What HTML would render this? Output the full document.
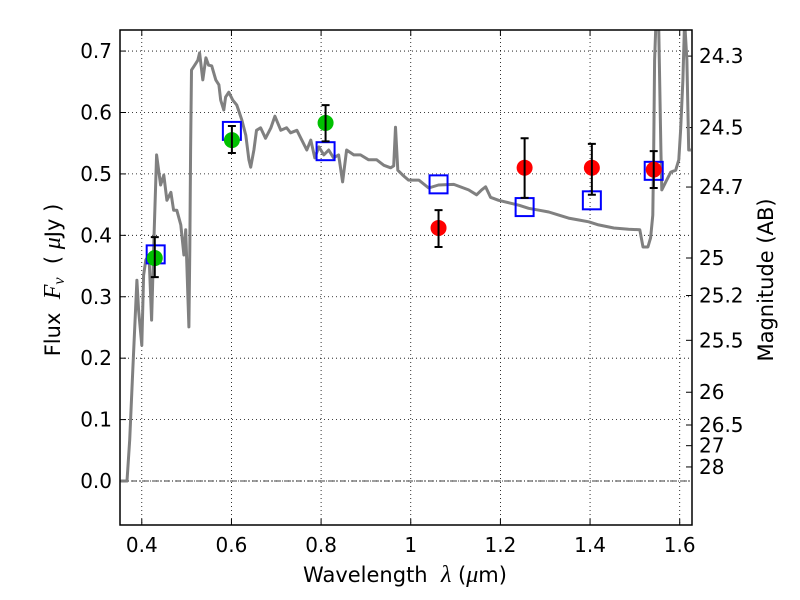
<!DOCTYPE html>
<html><head><meta charset="utf-8"><style>
body{margin:0;background:#fff;}
svg{display:block;font-family:"DejaVu Sans","Liberation Sans",sans-serif;}
text{white-space:pre;}
</style></head><body>
<svg id="chart" width="800" height="600" viewBox="0 0 800 600" xmlns="http://www.w3.org/2000/svg"></svg>
<script>
const specWave=[0.353,0.367,0.373,0.380,0.389,0.393,0.400,0.404,0.409,0.416,0.422,0.427,0.433,0.442,0.449,0.456,0.465,0.471,0.478,0.487,0.494,0.498,0.503,0.505,0.507,0.509,0.511,0.518,0.525,0.529,0.536,0.543,0.549,0.556,0.565,0.572,0.576,0.583,0.587,0.594,0.603,0.612,0.623,0.632,0.639,0.643,0.650,0.656,0.665,0.676,0.688,0.697,0.710,0.723,0.732,0.746,0.757,0.768,0.777,0.786,0.795,0.806,0.817,0.828,0.839,0.848,0.857,0.873,0.888,0.906,0.924,0.940,0.955,0.962,0.966,0.971,0.982,0.995,1.018,1.040,1.062,1.096,1.129,1.147,1.158,1.167,1.178,1.196,1.219,1.241,1.263,1.286,1.308,1.330,1.352,1.375,1.397,1.419,1.453,1.486,1.511,1.518,1.529,1.535,1.540,1.542,1.544,1.547,1.553,1.558,1.560,1.571,1.580,1.591,1.598,1.602,1.607,1.611,1.616,1.620,1.625];
const specFlux=[0,0,0.067,0.181,0.327,0.278,0.221,0.335,0.360,0.368,0.262,0.392,0.531,0.482,0.498,0.457,0.470,0.441,0.441,0.417,0.368,0.409,0.295,0.251,0.376,0.539,0.669,0.677,0.685,0.697,0.653,0.689,0.677,0.676,0.653,0.645,0.620,0.604,0.625,0.633,0.620,0.612,0.588,0.563,0.523,0.511,0.539,0.571,0.575,0.558,0.575,0.594,0.571,0.575,0.567,0.571,0.555,0.539,0.555,0.526,0.544,0.531,0.539,0.526,0.531,0.487,0.539,0.531,0.531,0.523,0.523,0.514,0.510,0.513,0.576,0.506,0.498,0.490,0.490,0.477,0.482,0.483,0.474,0.466,0.474,0.479,0.462,0.457,0.453,0.449,0.444,0.441,0.438,0.433,0.428,0.425,0.422,0.417,0.412,0.410,0.409,0.381,0.381,0.396,0.433,0.539,0.685,0.75,0.75,0.539,0.474,0.490,0.503,0.506,0.523,0.571,0.653,0.75,0.685,0.539,0.539];
const greenWave=[0.429,0.601,0.810];
const greenFlux=[0.363,0.555,0.583];
const greenLo=[0.332,0.534,0.553];
const greenHi=[0.397,0.578,0.612];
const redWave=[1.062,1.254,1.404,1.542];
const redFlux=[0.412,0.510,0.510,0.507];
const redLo=[0.381,0.461,0.466,0.477];
const redHi=[0.441,0.558,0.549,0.537];
const modelWave=[0.431,0.601,0.810,1.062,1.254,1.404,1.542];
const modelFlux=[0.369,0.570,0.537,0.483,0.446,0.457,0.505];
const xTicks=[0.4,0.6,0.8,1.0,1.2,1.4,1.6];
const xTickLabels=["0.4","0.6","0.8","1","1.2","1.4","1.6"];
const yTicks=[0,0.1,0.2,0.3,0.4,0.5,0.6,0.7];
const yTickLabels=["0.0","0.1","0.2","0.3","0.4","0.5","0.6","0.7"];
const magTicks=[24.3,24.5,24.7,25,25.2,25.5,26,26.5,27,28];
const magLabels=["24.3","24.5","24.7","25","25.2","25.5","26","26.5","27","28"];

const L=120,R=692,T=30,B=525;
const xmin=0.3514,xmax=1.6274,ymin=-0.0716,ymax=0.7343;
const X=v=>L+(v-xmin)/(xmax-xmin)*(R-L);
const Y=v=>B-(v-ymin)/(ymax-ymin)*(B-T);
const svg=document.getElementById('chart');
const NS='http://www.w3.org/2000/svg';
function mk(tag,attrs,parent){const e=document.createElementNS(NS,tag);for(const k in attrs)e.setAttribute(k,attrs[k]);(parent||svg).appendChild(e);return e;}

const defs=mk('clipPath',{id:'clip'});mk('rect',{x:L,y:T,width:R-L,height:B-T},defs);

xTicks.forEach((v,i)=>{
 const g=mk('line',{x1:X(v),x2:X(v),y1:T,y2:B,stroke:'#000','stroke-width':0.8,'stroke-dasharray':'1,3'});
 
 
 const t1=mk('line',{x1:X(v),x2:X(v),y1:B,y2:B-6,stroke:'#000','stroke-width':1});
 
 
 const t2=mk('line',{x1:X(v),x2:X(v),y1:T,y2:T+6,stroke:'#000','stroke-width':1});
 
 
 const lb=mk('text',{x:X(v),y:B+27,'text-anchor':'middle','font-size':20});
 lb.textContent=xTickLabels[i];
 
 
});
yTicks.forEach((v,i)=>{
 const g=mk('line',{x1:L,x2:R,y1:Y(v),y2:Y(v),stroke:'#000','stroke-width':0.8,'stroke-dasharray':'1,3'});
 
 
 const t=mk('line',{x1:L,x2:L+6,y1:Y(v),y2:Y(v),stroke:'#000','stroke-width':1});
 
 
 const lb=mk('text',{x:L-8,y:Y(v)+7,'text-anchor':'end','font-size':20});
 lb.textContent=yTickLabels[i];
 
 
});
const zl=mk('line',{x1:L,x2:R,y1:Y(0),y2:Y(0),stroke:'#000','stroke-width':0.8,'stroke-dasharray':'6,2,1,2'});



magTicks.forEach((m,i)=>{
 const f=Math.pow(10,(23.9-m)/2.5);
 const t=mk('line',{x1:R,x2:R-6,y1:Y(f),y2:Y(f),stroke:'#000','stroke-width':1});
 
 
 const lb=mk('text',{x:R+7,y:Y(f)+7,'font-size':20});
 lb.textContent=magLabels[i];
 
 
});

const pts=specWave.map((w,i)=>X(w).toFixed(1)+','+Y(specFlux[i]).toFixed(1)).join(' ');
const sp=mk('polyline',{points:pts,fill:'none',stroke:'#808080','stroke-width':3,'stroke-linejoin':'round','clip-path':'url(#clip)'});



modelWave.forEach((w,i)=>{
 const s=mk('rect',{x:X(w)-9,y:Y(modelFlux[i])-9,width:18,height:18,fill:'none',stroke:'#0000ff','stroke-width':2});
 
 
});
function pointsDraw(ws,fs,lo,hi,col,name){
 ws.forEach((w,i)=>{
  const c=mk('circle',{cx:X(w),cy:Y(fs[i]),r:8,fill:col});
  
  
  const e=mk('path',{d:`M${X(w)},${Y(lo[i])}V${Y(hi[i])}M${X(w)-4},${Y(lo[i])}h8M${X(w)-4},${Y(hi[i])}h8`,stroke:'#000','stroke-width':2,fill:'none'});
  
  
 });
}
pointsDraw(greenWave,greenFlux,greenLo,greenHi,'#00c000','optical-detection');
pointsDraw(redWave,redFlux,redLo,redHi,'#ff0000','nir-detection');

const fr=mk('rect',{x:L,y:T,width:R-L,height:B-T,fill:'none',stroke:'#000','stroke-width':1.5});



const xl=mk('text',{x:405,y:582,'text-anchor':'middle','font-size':21});
xl.innerHTML='Wavelength  <tspan font-family="Liberation Serif" font-style="italic" font-size="24">λ</tspan> (<tspan font-family="Liberation Serif" font-style="italic" font-size="24">μ</tspan>m)';


const yl=mk('text',{x:0,y:0,'text-anchor':'middle','font-size':21,transform:'translate(60,280) rotate(-90)'});
yl.innerHTML='Flux  <tspan font-family="Liberation Serif" font-style="italic" font-size="24">F</tspan><tspan font-family="Liberation Serif" font-style="italic" font-size="16" dy="4">ν</tspan><tspan dy="-4">  ( </tspan><tspan font-family="Liberation Serif" font-style="italic" font-size="24">μ</tspan>Jy )';


const ml=mk('text',{x:0,y:0,'text-anchor':'middle','font-size':21,transform:'translate(773,280) rotate(-90)'});
ml.textContent='Magnitude (AB)';


</script>
</body></html>
